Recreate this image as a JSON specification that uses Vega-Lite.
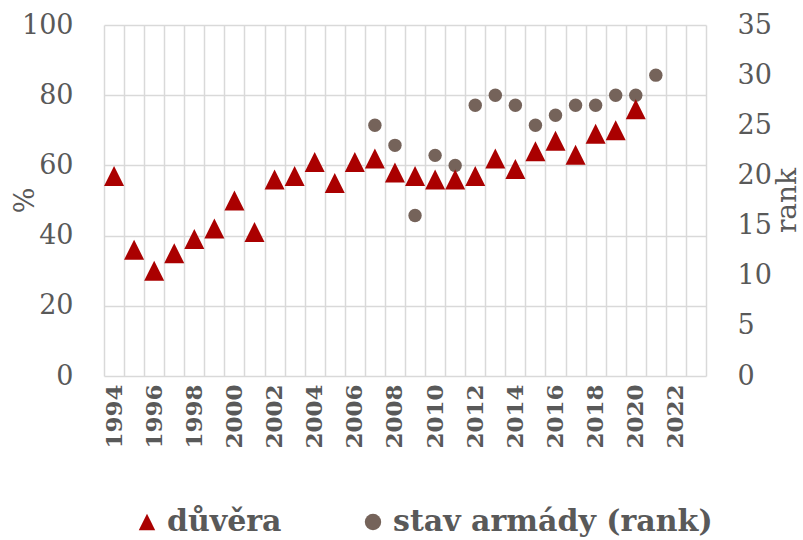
{
  "$schema": "https://vega.github.io/schema/vega-lite/v6.json",
  "width": 602,
  "height": 351,
  "autosize": {"type": "none"},
  "padding": {"left": 104, "top": 25, "right": 97, "bottom": 164},
  "background": "white",
  "config": {
    "view": {"stroke": null},
    "font": "DejaVu Serif",
    "axis": {"labelColor": "#595959", "titleColor": "#595959", "domain": false, "ticks": false}
  },
  "data": {
    "values": [
      {"year": 1994, "series": "důvěra", "value": 57},
      {"year": 1995, "series": "důvěra", "value": 36},
      {"year": 1996, "series": "důvěra", "value": 30},
      {"year": 1997, "series": "důvěra", "value": 35},
      {"year": 1998, "series": "důvěra", "value": 39},
      {"year": 1999, "series": "důvěra", "value": 42},
      {"year": 2000, "series": "důvěra", "value": 50},
      {"year": 2001, "series": "důvěra", "value": 41},
      {"year": 2002, "series": "důvěra", "value": 56},
      {"year": 2003, "series": "důvěra", "value": 57},
      {"year": 2004, "series": "důvěra", "value": 61},
      {"year": 2005, "series": "důvěra", "value": 55},
      {"year": 2006, "series": "důvěra", "value": 61},
      {"year": 2007, "series": "důvěra", "value": 62},
      {"year": 2008, "series": "důvěra", "value": 58},
      {"year": 2009, "series": "důvěra", "value": 57},
      {"year": 2010, "series": "důvěra", "value": 56},
      {"year": 2011, "series": "důvěra", "value": 56},
      {"year": 2012, "series": "důvěra", "value": 57},
      {"year": 2013, "series": "důvěra", "value": 62},
      {"year": 2014, "series": "důvěra", "value": 59},
      {"year": 2015, "series": "důvěra", "value": 64},
      {"year": 2016, "series": "důvěra", "value": 67},
      {"year": 2017, "series": "důvěra", "value": 63},
      {"year": 2018, "series": "důvěra", "value": 69},
      {"year": 2019, "series": "důvěra", "value": 70},
      {"year": 2020, "series": "důvěra", "value": 76},
      {"year": 2007, "series": "stav armády (rank)", "value": 25},
      {"year": 2008, "series": "stav armády (rank)", "value": 23},
      {"year": 2009, "series": "stav armády (rank)", "value": 16},
      {"year": 2010, "series": "stav armády (rank)", "value": 22},
      {"year": 2011, "series": "stav armády (rank)", "value": 21},
      {"year": 2012, "series": "stav armády (rank)", "value": 27},
      {"year": 2013, "series": "stav armády (rank)", "value": 28},
      {"year": 2014, "series": "stav armády (rank)", "value": 27},
      {"year": 2015, "series": "stav armády (rank)", "value": 25},
      {"year": 2016, "series": "stav armády (rank)", "value": 26},
      {"year": 2017, "series": "stav armády (rank)", "value": 27},
      {"year": 2018, "series": "stav armády (rank)", "value": 27},
      {"year": 2019, "series": "stav armády (rank)", "value": 28},
      {"year": 2020, "series": "stav armády (rank)", "value": 28},
      {"year": 2021, "series": "stav armády (rank)", "value": 30}
    ]
  },
  "encoding": {
    "x": {
      "field": "year",
      "type": "ordinal",
      "scale": {"type": "band", "domain": [1994,1995,1996,1997,1998,1999,2000,2001,2002,2003,2004,2005,2006,2007,2008,2009,2010,2011,2012,2013,2014,2015,2016,2017,2018,2019,2020,2021,2022,2023], "paddingInner": 0, "paddingOuter": 0},
      "axis": {
        "title": null,
        "tickBand": "extent",
        "grid": true,
        "gridColor": "#d9d9d9",
        "gridWidth": 1.5,
        "labelExpr": "datum.value % 2 == 0 ? datum.label : ''",
        "labelAngle": -90,
        "labelAlign": "right",
        "labelBaseline": "middle",
        "labelFont": "DejaVu Serif",
        "labelFontWeight": "bold",
        "labelFontSize": 23,
        "labelPadding": 8,
        "labelOverlap": false
      }
    },
    "color": {
      "field": "series",
      "type": "nominal",
      "scale": {"domain": ["důvěra", "stav armády (rank)"], "range": ["#AA0000", "#75635A"]},
      "legend": {
        "title": null,
        "orient": "none",
        "legendX": 28,
        "legendY": 482,
        "direction": "horizontal",
        "labelFont": "DejaVu Serif",
        "labelFontWeight": "bold",
        "labelFontSize": 30,
        "labelColor": "#595959",
        "labelOffset": 5,
        "labelLimit": 0,
        "columnPadding": 76,
        "symbolSize": 270,
        "symbolOpacity": 1,
        "symbolStrokeWidth": 0,
        "padding": 0
      }
    },
    "shape": {
      "field": "series",
      "type": "nominal",
      "scale": {"domain": ["důvěra", "stav armády (rank)"], "range": ["M0,-1L1,1L-1,1Z", "circle"]}
    }
  },
  "layer": [
    {
      "transform": [{"filter": "datum.series == 'stav armády (rank)'"}],
      "mark": {"type": "point", "filled": true, "opacity": 1, "size": 180},
      "encoding": {
        "y": {
          "field": "value",
          "type": "quantitative",
          "scale": {"domain": [0, 35], "nice": false},
          "axis": {
            "orient": "right",
            "title": "rank",
            "values": [0,5,10,15,20,25,30,35],
            "grid": false,
            "labelFontSize": 27,
            "labelPadding": 31,
            "titleFontSize": 28,
            "titleFontWeight": "normal",
            "titleAngle": 270,
            "titleAlign": "center",
            "titleBaseline": "middle",
            "titleX": 81,
            "titleY": 175
          }
        }
      }
    },
    {
      "transform": [{"filter": "datum.series == 'důvěra'"}],
      "mark": {"type": "point", "filled": true, "opacity": 1, "size": 400},
      "encoding": {
        "y": {
          "field": "value",
          "type": "quantitative",
          "scale": {"domain": [0, 100], "nice": false},
          "axis": {
            "orient": "left",
            "title": "%",
            "values": [0,20,40,60,80,100],
            "grid": true,
            "gridColor": "#d9d9d9",
            "gridWidth": 1.5,
            "labelFontSize": 27,
            "labelPadding": 31,
            "titleFontSize": 27,
            "titleFontWeight": "normal",
            "titleAngle": 270,
            "titleAlign": "center",
            "titleBaseline": "middle",
            "titleX": -79,
            "titleY": 175
          }
        }
      }
    }
  ],
  "resolve": {"scale": {"y": "independent"}}
}
